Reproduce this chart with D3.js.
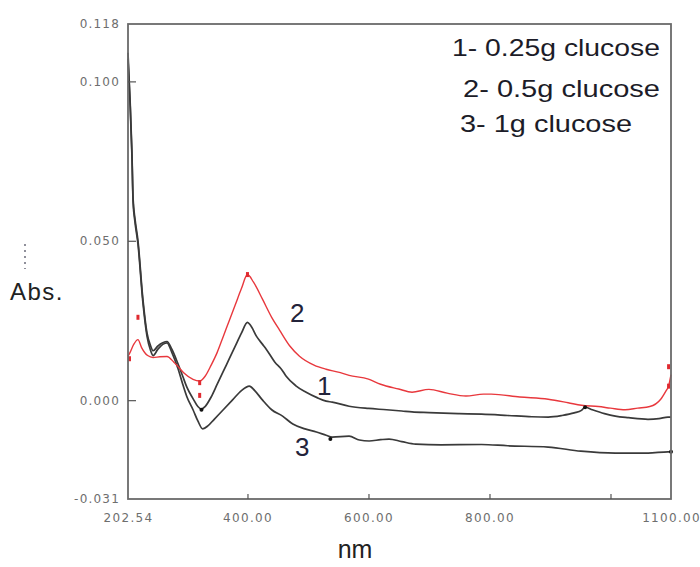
<!DOCTYPE html>
<html>
<head>
<meta charset="utf-8">
<script src="https://cdn.jsdelivr.net/npm/d3@7"></script>
<style>
  html, body { margin: 0; padding: 0; background: #fff; }
  svg { display: block; }
</style>
</head>
<body>
<svg id="chart" width="700" height="567"></svg>
<script>
// ---------- DATA ----------
const legendLabels = ["1- 0.25g clucose", "2- 0.5g clucose", "3- 1g clucose"];
const curveLabels = ["1", "2", "3"];
const xLabelValues = [202.54, 400, 600, 800, 1100];
const xTickValues = [400, 600, 800, 1000];
const yLabelValues = [0.118, 0.100, 0.050, 0.000, -0.031];
const yTickValues = [0.100, 0.050, 0.000];

// series 1 (0.25 g) — black, middle
const s1_nm  = [202.5, 206, 209, 211, 214, 219, 227, 234, 240, 244, 252, 260, 267, 275, 285, 293, 300, 310, 318, 324, 330, 340, 350, 360, 370, 380, 390, 400, 405, 415, 425, 431, 445, 457, 464, 480, 497, 515, 530, 540, 568, 600, 630, 655, 672, 700, 750, 787, 830, 870, 897, 920, 940, 952, 958, 970, 990, 1008, 1030, 1062, 1080, 1095, 1100];
const s1_abs = [0.109, 0.094, 0.078, 0.063, 0.057, 0.050, 0.032, 0.021, 0.017, 0.0155, 0.017, 0.0180, 0.0184, 0.016, 0.0115, 0.0075, 0.004, 0.0005, -0.002, -0.0028, -0.002, 0.001, 0.005, 0.009, 0.013, 0.017, 0.021, 0.0244, 0.0235, 0.020, 0.0175, 0.016, 0.012, 0.0095, 0.0075, 0.0045, 0.0025, 0.0008, -0.0003, -0.0006, -0.0019, -0.0026, -0.003, -0.0034, -0.0037, -0.0039, -0.0042, -0.0044, -0.0048, -0.0052, -0.0053, -0.0048, -0.004, -0.0032, -0.0022, -0.003, -0.0042, -0.005, -0.0055, -0.006, -0.0058, -0.0053, -0.0053];

// series 2 (0.5 g) — red
const s2_nm  = [202.5, 206, 212, 219, 225, 235, 244, 255, 267, 278, 285, 295, 310, 321, 330, 340, 350, 360, 370, 380, 390, 400, 410, 425, 440, 453, 470, 486, 510, 530, 550, 568, 600, 620, 650, 672, 700, 730, 761, 790, 803, 850, 897, 930, 952, 980, 1000, 1024, 1045, 1065, 1083, 1092, 1096, 1100];
const s2_abs = [0.0138, 0.015, 0.0175, 0.019, 0.0165, 0.0140, 0.0134, 0.0136, 0.0137, 0.012, 0.0106, 0.0085, 0.0065, 0.006, 0.0075, 0.011, 0.015, 0.020, 0.025, 0.030, 0.035, 0.0394, 0.037, 0.0316, 0.026, 0.022, 0.017, 0.0138, 0.011, 0.0097, 0.0088, 0.0078, 0.0066, 0.005, 0.0035, 0.0025, 0.0034, 0.0022, 0.0013, 0.0019, 0.0019, 0.0010, 0.0003, -0.0008, -0.0016, -0.0020, -0.0025, -0.003, -0.0025, -0.002, 0.0003, 0.003, 0.0044, 0.008];

// series 3 (1 g) — black, bottom
const s3_nm  = [202.5, 206, 209, 211, 214, 219, 227, 234, 240, 244, 252, 260, 267, 275, 285, 293, 300, 310, 318, 326, 335, 345, 360, 375, 390, 403, 412, 425, 440, 458, 475, 495, 514, 530, 540, 568, 585, 601, 620, 634, 655, 678, 720, 787, 830, 897, 951, 1008, 1062, 1095, 1100];
const s3_abs = [0.107, 0.093, 0.077, 0.062, 0.056, 0.049, 0.031, 0.020, 0.0155, 0.014, 0.016, 0.0175, 0.018, 0.0150, 0.010, 0.005, 0.001, -0.003, -0.0065, -0.009, -0.008, -0.006, -0.003, 0.000, 0.003, 0.0044, 0.003, 0.000, -0.0030, -0.005, -0.0075, -0.009, -0.010, -0.011, -0.0116, -0.0113, -0.0125, -0.0128, -0.0124, -0.0122, -0.013, -0.0138, -0.014, -0.0139, -0.0143, -0.0147, -0.016, -0.0166, -0.0166, -0.0162, -0.0162];

// small marker points drawn on the traces
const red_mark_nm  = [205, 219, 321, 321, 400, 1096, 1096];
const red_mark_abs = [0.013, 0.026, 0.0055, 0.0015, 0.0394, 0.0044, 0.0105];
const blk_mark_nm  = [958, 537, 1100, 324];
const blk_mark_abs = [-0.0022, -0.0122, -0.0162, -0.0030];

// ---------- CHART ----------
const svg = d3.select("#chart");
const x = d3.scaleLinear().domain([202.54, 1100]).range([128, 671]);
const y = d3.scaleLinear().domain([-0.031, 0.118]).range([499, 24]);

const tickFont = "'DejaVu Sans', sans-serif";
const textFont = "'Liberation Sans', Arial, sans-serif";

function zip(a, b) { return a.map((d, i) => [d, b[i]]); }
const line = d3.line().x(d => x(d[0])).y(d => y(d[1])).curve(d3.curveMonotoneX);

// traces
const series = [
  { pts: zip(s1_nm, s1_abs), color: "#3a3a3a", w: 1.7 },
  { pts: zip(s3_nm, s3_abs), color: "#3a3a3a", w: 1.7 },
  { pts: zip(s2_nm, s2_abs), color: "#e8383d", w: 1.4 }
];
svg.append("g").selectAll("path").data(series).join("path")
  .attr("d", d => line(d.pts))
  .attr("fill", "none")
  .attr("stroke", d => d.color)
  .attr("stroke-width", d => d.w)
  .attr("stroke-linejoin", "round");

// markers
svg.append("g").selectAll("rect").data(zip(red_mark_nm, red_mark_abs)).join("rect")
  .attr("x", d => x(d[0]) - 1.5).attr("y", d => y(d[1]) - 2.5)
  .attr("width", 3).attr("height", 5).attr("fill", "#e02a30");
svg.append("g").selectAll("circle").data(zip(blk_mark_nm, blk_mark_abs)).join("circle")
  .attr("cx", d => x(d[0])).attr("cy", d => y(d[1])).attr("r", 2).attr("fill", "#111");

// frame
svg.append("rect")
  .attr("x", x.range()[0]).attr("y", y.range()[1])
  .attr("width", x.range()[1] - x.range()[0])
  .attr("height", y.range()[0] - y.range()[1])
  .attr("fill", "none").attr("stroke", "#6a6a6a").attr("stroke-width", 1.8);

// inside ticks
const xTicks = svg.append("g").attr("transform", `translate(0,${y.range()[0]})`)
  .call(d3.axisBottom(x).tickValues(xTickValues).tickSize(-5).tickFormat(""));
xTicks.select(".domain").remove();
xTicks.selectAll("line").attr("stroke", "#555").attr("stroke-width", 1.2);

const yTicks = svg.append("g").attr("transform", `translate(${x.range()[0]},0)`)
  .call(d3.axisLeft(y).tickValues(yTickValues).tickSize(-8).tickFormat(""));
yTicks.select(".domain").remove();
yTicks.selectAll("line").attr("stroke", "#555").attr("stroke-width", 1.2);

// tick labels
const xLab = svg.append("g").attr("transform", `translate(0,${y.range()[0]})`)
  .call(d3.axisBottom(x).tickValues(xLabelValues).tickSize(0).tickPadding(14).tickFormat(d3.format(".2f")));
xLab.select(".domain").remove();
xLab.selectAll("text").attr("font-family", tickFont).attr("font-size", 12)
  .attr("letter-spacing", 1.3).attr("fill", "#6e6e6e");

const yLab = svg.append("g").attr("transform", `translate(${x.range()[0]},0)`)
  .call(d3.axisLeft(y).tickValues(yLabelValues).tickSize(0).tickPadding(8)
    .tickFormat(d => d3.format(".3f")(d).replace("\u2212", "-")));
yLab.select(".domain").remove();
yLab.selectAll("text").attr("font-family", tickFont).attr("font-size", 12)
  .attr("letter-spacing", 1.2).attr("fill", "#6e6e6e");

// axis titles
svg.append("text").attr("x", 10).attr("y", 300)
  .attr("font-family", textFont).attr("font-size", 24).attr("fill", "#222")
  .attr("letter-spacing", 1.5).text("Abs.");
svg.append("text").attr("x", 355).attr("y", 558).attr("text-anchor", "middle")
  .attr("font-family", textFont).attr("font-size", 25).attr("fill", "#222")
  .text("nm");
// tiny dotted mark above Abs.
svg.append("line").attr("x1", 25).attr("x2", 25).attr("y1", 244).attr("y2", 269)
  .attr("stroke", "#556").attr("stroke-width", 1.3).attr("stroke-dasharray", "2,4");

// legend text
const legendPos = [[452, 56, 208], [463, 97, 197], [460, 132, 172]];
svg.append("g").selectAll("text").data(legendLabels).join("text")
  .attr("x", (d, i) => legendPos[i][0]).attr("y", (d, i) => legendPos[i][1])
  .attr("textLength", (d, i) => legendPos[i][2]).attr("lengthAdjust", "spacingAndGlyphs")
  .attr("font-family", textFont).attr("font-size", 24).attr("fill", "#1c1c28")
  .text(d => d);

// curve number labels
const curveLabelPos = [[317, 395], [290, 322], [295, 456]];
svg.append("g").selectAll("text").data(curveLabels).join("text")
  .attr("x", (d, i) => curveLabelPos[i][0]).attr("y", (d, i) => curveLabelPos[i][1])
  .attr("font-family", textFont).attr("font-size", 26).attr("fill", "#23233a")
  .text(d => d);
</script>
</body>
</html>
